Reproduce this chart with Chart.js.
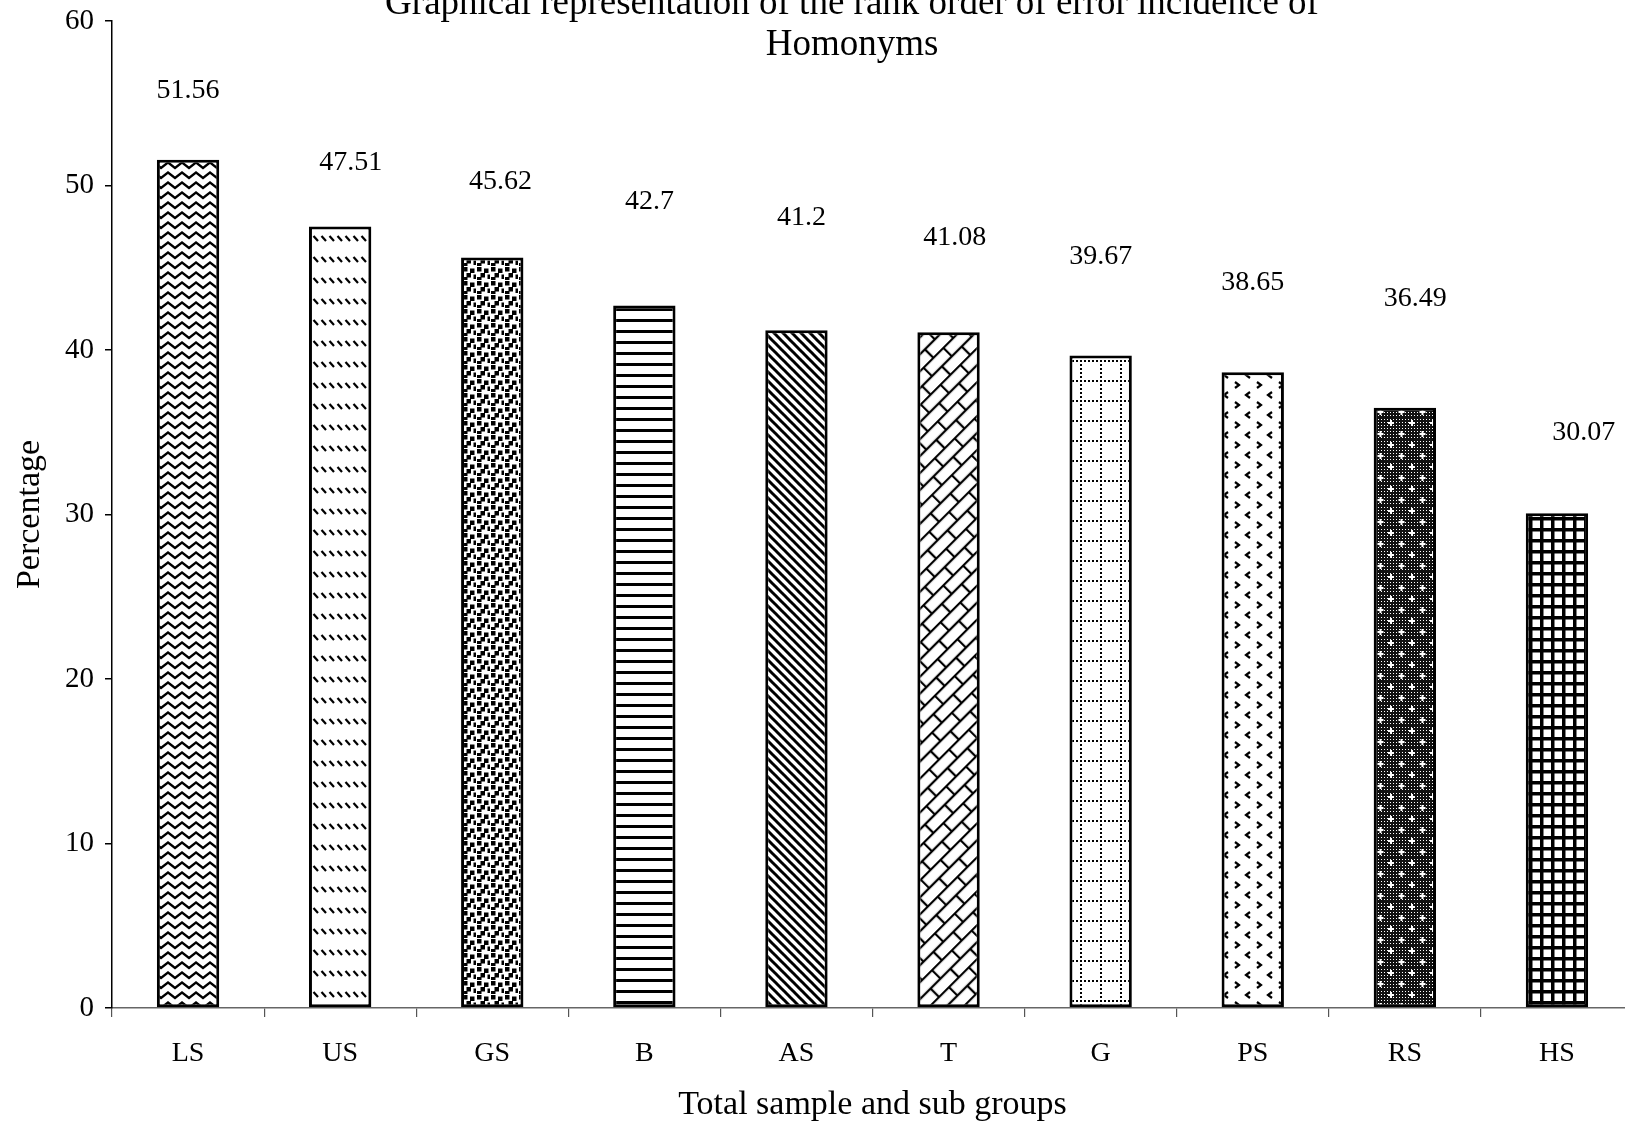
<!DOCTYPE html>
<html lang="en">
<head>
<meta charset="UTF-8">
<title>Homonyms</title>
<style>
  html, body { margin: 0; padding: 0; background: #fff; overflow: hidden; }
  #wrap { position: absolute; left: 0; top: 0; width: 1704px; height: 1129px; }
</style>
</head>
<body>
<div id="wrap"><canvas id="chart" width="1704" height="1129"></canvas></div>
<script src="https://cdn.jsdelivr.net/npm/chart.js"></script>
<script>
// data
const groups = ['LS', 'US', 'GS', 'B', 'AS', 'T', 'G', 'PS', 'RS', 'HS'];
const percentages = [51.56, 47.51, 45.62, 42.7, 41.2, 41.08, 39.67, 38.65, 36.49, 30.07];
const yTicks = [0, 10, 20, 30, 40, 50, 60];
const titleLines = ['Graphical representation of the rank order of error incidence of', 'Homonyms'];

const SERIF = "'Liberation Serif', 'Times New Roman', serif";
Chart.defaults.font.family = SERIF;
Chart.defaults.color = '#000';

// small black & white fill patterns, like the old Excel hatches
function tile(w, h, draw, bg) {
    const c = document.createElement('canvas');
    c.width = w; c.height = h;
    const g = c.getContext('2d');
    g.fillStyle = bg || '#fff';
    g.fillRect(0, 0, w, h);
    g.fillStyle = '#000';
    g.strokeStyle = '#000';
    draw(g, w, h);
    return c;
}
const pctx = document.createElement('canvas').getContext('2d');
function pattern(c, rot) {
    const p = pctx.createPattern(c, 'repeat');
    if (rot) p.setTransform(new DOMMatrix().rotate(rot));
    return p;
}
function line(g, pts) {
    g.beginPath();
    g.moveTo(pts[0][0], pts[0][1]);
    for (let i = 1; i < pts.length; i++) g.lineTo(pts[i][0], pts[i][1]);
    g.stroke();
}

const fills = [
    // LS - zigzag waves
    pattern(tile(14, 10, g => {
        g.lineWidth = 2.3;
        line(g, [[-7, 8], [0, 2.5], [7, 8], [14, 2.5], [21, 8]]);
    })),
    // US - rows of short back dashes
    pattern(tile(8, 21, g => {
        g.lineWidth = 2.2;
        line(g, [[1.5, 5], [6, 10]]);
    })),
    // GS - dense dots
    pattern(tile(14, 14, g => {
        [[1, 1], [8, 2.5], [4.5, 7], [11.5, 8.5], [1, 11]].forEach(d => g.fillRect(d[0], d[1], 4.5, 4.5));
        g.fillRect(-2.5, 8.5, 2.5, 4.5);
    })),
    // B - horizontal lines
    pattern(tile(4, 11, g => { g.fillRect(0, 0, 4, 3); })),
    // AS - diagonal lines
    pattern(tile(9, 9, g => {
        g.lineWidth = 3;
        line(g, [[-1, -1], [10, 10]]);
        line(g, [[-1, 8], [1, 10]]);
        line(g, [[8, -1], [10, 1]]);
    })),
    // T - diagonal brick
    pattern(tile(28, 24, g => {
        g.lineWidth = 2.3;
        line(g, [[0, 1], [28, 1]]);
        line(g, [[0, 13], [28, 13]]);
        line(g, [[1, 1], [1, 13]]);
        line(g, [[15, 13], [15, 25]]);
        line(g, [[15, -1], [15, 1]]);
    }), -45),
    // G - dotted grid
    pattern(tile(20, 20, g => {
        for (let i = 0; i < 20; i += 4) {
            g.fillRect(i, 0, 2, 2);
            g.fillRect(0, i, 2, 2);
        }
    })),
    // PS - scattered chevrons
    pattern(tile(22, 20, g => {
        g.lineWidth = 2.2;
        line(g, [[3, 2], [7, 5], [3, 8]]);
        line(g, [[18, 12], [14, 15], [18, 18]]);
    })),
    // RS - dark halftone with white crosses
    pattern(tile(21, 22, g => {
        g.fillStyle = '#fff';
        for (let x = 1; x < 21; x += 3) {
            for (let y = 1; y < 22; y += 3) g.fillRect(x, y, 1, 1);
        }
        g.strokeStyle = '#fff';
        g.lineWidth = 2;
        line(g, [[2, 5], [8, 5]]);
        line(g, [[5, 2], [5, 8]]);
        line(g, [[12.5, 16], [18.5, 16]]);
        line(g, [[15.5, 13], [15.5, 19]]);
    }, '#111')),
    // HS - small squares
    pattern(tile(11, 11, g => {
        g.fillStyle = '#fff';
        g.fillRect(3.5, 3.5, 7.5, 7.5);
    }, '#000'))
];

// title is drawn by hand because it overlaps the plot area in the original
const titlePlugin = {
    id: 'overlapTitle',
    afterDraw(chart, args, opts) {
        const c = chart.ctx;
        c.save();
        c.font = opts.size + 'px ' + SERIF;
        c.fillStyle = '#000';
        c.textAlign = 'center';
        c.textBaseline = 'middle';
        opts.lines.forEach((t, i) => c.fillText(t, chart.width / 2, opts.top + i * opts.lineHeight));
        c.restore();
    }
};

// value labels sit well above the bars, hand placed in the original
const barLabels = {
    id: 'barLabels',
    afterDatasetsDraw(chart, args, opts) {
        const c = chart.ctx;
        const meta = chart.getDatasetMeta(0);
        const ys = chart.scales.y;
        const xs = chart.scales.x;
        const cat = (xs.right - xs.left) / groups.length;
        c.save();
        c.font = opts.size + 'px ' + SERIF;
        c.fillStyle = '#000';
        c.textAlign = 'center';
        c.textBaseline = 'middle';
        meta.data.forEach((bar, i) => {
            const x = bar.x + opts.shift[i] * cat;
            const y = ys.getPixelForValue(opts.levels[i]);
            c.fillText(String(percentages[i]), x, y);
        });
        c.restore();
    }
};

new Chart(document.getElementById('chart'), {
    type: 'bar',
    data: {
        labels: groups,
        datasets: [{
            data: percentages,
            backgroundColor: fills,
            borderColor: '#000',
            borderWidth: 3,
            borderSkipped: false,
            categoryPercentage: 1,
            barPercentage: 0.41
        }]
    },
    options: {
        responsive: false,
        devicePixelRatio: 1,
        animation: false,
        layout: { padding: { left: 8, right: 71, top: 21, bottom: 0 } },
        plugins: {
            legend: { display: false },
            tooltip: { enabled: false },
            title: { display: false },
            overlapTitle: { lines: titleLines, size: 37, top: 4, lineHeight: 41.5 },
            barLabels: {
                size: 28,
                levels: [55.75, 51.4, 50.25, 49.0, 48.05, 46.8, 45.65, 44.1, 43.1, 34.95],
                shift: [0, 0.07, 0.055, 0.034, 0.034, 0.04, 0, 0, 0.068, 0.177]
            }
        },
        scales: {
            x: {
                ticks: { color: '#000', font: { size: 28 }, padding: 20 },
                grid: { drawOnChartArea: false, tickLength: 9, color: '#555', lineWidth: 1.2, offset: true },
                border: { color: '#666', width: 1.5, dash: [6, 3] },
                title: { display: true, text: 'Total sample and sub groups', color: '#000', font: { size: 34 }, padding: { top: 0, bottom: 4 } },
                afterFit(s) { s.height = 121; }
            },
            y: {
                min: 0,
                max: 60,
                afterBuildTicks(s) { s.ticks = yTicks.map(v => ({ value: v })); },
                ticks: { color: '#000', font: { size: 29 }, padding: 11 },
                grid: { drawOnChartArea: false, tickLength: 7, color: '#000', lineWidth: 1.5 },
                border: { color: '#000', width: 1.5 },
                title: { display: true, text: 'Percentage', color: '#000', font: { size: 34 }, padding: { top: 2, bottom: 0 } },
                afterFit(s) {
                    s.width = 104;
                    // let the top tick label hang above the plot like in the original
                    s.paddingTop = 0;
                    s.paddingBottom = 0;
                }
            }
        }
    },
    plugins: [titlePlugin, barLabels]
});
</script>
</body>
</html>
